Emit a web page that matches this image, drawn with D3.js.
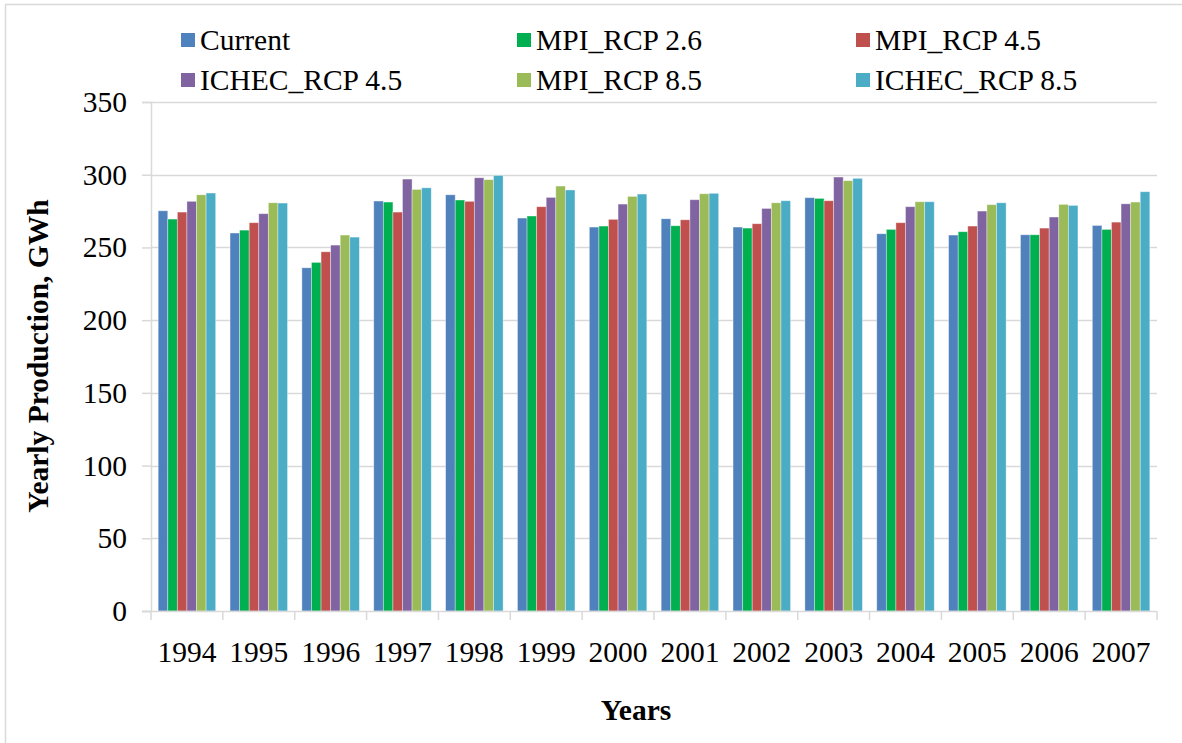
<!DOCTYPE html>
<html>
<head>
<meta charset="utf-8">
<script src="https://cdn.jsdelivr.net/npm/d3@7/dist/d3.min.js"></script>
<style>
  html, body { margin: 0; padding: 0; background: #ffffff; }
  svg { display: block; }
  text { font-family: "Liberation Serif", "Times New Roman", serif; fill: #000; }
</style>
</head>
<body>
<svg id="chart" width="1182" height="743"></svg>
<script>
const years = ["1994","1995","1996","1997","1998","1999","2000","2001","2002","2003","2004","2005","2006","2007"];
const seriesNames = ["Current","MPI_RCP 2.6","MPI_RCP 4.5","ICHEC_RCP 4.5","MPI_RCP 8.5","ICHEC_RCP 8.5"];
const seriesColors = ["#4F81BD","#00B050","#C0504D","#8064A2","#9BBB59","#4BACC6"];
const current    = [275.2, 259.9, 236.0, 281.9, 286.2, 270.2, 264.0, 269.7, 264.0, 284.2, 259.4, 258.5, 258.7, 265.1];
const mpiRcp26   = [269.5, 261.9, 239.7, 281.2, 282.6, 271.6, 264.7, 264.9, 263.3, 283.7, 262.4, 260.8, 258.7, 262.4];
const mpiRcp45   = [274.3, 267.0, 247.0, 274.3, 281.7, 278.0, 269.3, 269.0, 266.3, 282.1, 267.0, 264.7, 263.3, 267.4];
const ichecRcp45 = [281.7, 273.2, 251.6, 297.0, 297.9, 284.4, 279.8, 282.8, 276.8, 298.4, 278.0, 275.0, 270.9, 280.0];
const mpiRcp85   = [286.2, 280.7, 258.5, 289.9, 296.6, 292.2, 285.1, 286.9, 280.7, 295.9, 281.4, 279.4, 279.6, 281.2];
const ichecRcp85 = [287.4, 280.5, 257.1, 291.0, 299.5, 289.5, 286.7, 287.2, 282.1, 297.5, 281.4, 280.7, 278.9, 288.3];
const yTicks = [0, 50, 100, 150, 200, 250, 300, 350];
const yTitle = "Yearly Production, GWh";
const xTitle = "Years";

const seriesValues = [current, mpiRcp26, mpiRcp45, ichecRcp45, mpiRcp85, ichecRcp85];

const svg = d3.select("#chart");
const plot = { left: 151, right: 1157, top: 102, bottom: 611 };
const FS = 29.5;

// chart area border
svg.append("rect")
  .attr("x", 5.5).attr("y", 4.5)
  .attr("width", 1200).attr("height", 800)
  .attr("fill", "#fff").attr("stroke", "#d9d9d9").attr("stroke-width", 1.5);

const x0 = d3.scaleBand().domain(years).range([plot.left, plot.right]).paddingInner(0).paddingOuter(0);
const bw = x0.bandwidth();
const x1 = d3.scaleBand().domain(seriesNames).range([bw * 0.1, bw * 0.9]).padding(0);
const y = d3.scaleLinear().domain([0, 350]).range([plot.bottom, plot.top]);

// gridlines
svg.append("g")
  .selectAll("line")
  .data(yTicks.filter(d => d > 0))
  .join("line")
  .attr("x1", plot.left).attr("x2", plot.right)
  .attr("y1", d => Math.round(y(d)) + 0.5).attr("y2", d => Math.round(y(d)) + 0.5)
  .attr("stroke", "#d9d9d9").attr("stroke-width", 1.5);

// y axis
const yAxis = d3.axisLeft(y).tickValues(yTicks).tickSize(9).tickPadding(15).tickFormat(d3.format("d"));
const gy = svg.append("g").attr("transform", `translate(${plot.left},0)`).call(yAxis);
gy.select(".domain").attr("stroke", "#d9d9d9").attr("stroke-width", 1.5);
gy.selectAll(".tick line").attr("stroke", "#d9d9d9").attr("stroke-width", 1.5);
gy.selectAll(".tick text").attr("font-size", FS).attr("fill", "#000");

// bars
const data = years.map((yr, i) => ({ year: yr, vals: seriesNames.map((s, j) => ({ s, j, v: seriesValues[j][i] })) }));
const groups = svg.append("g").selectAll("g")
  .data(data)
  .join("g")
  .attr("transform", d => `translate(${x0(d.year)},0)`);
groups.selectAll("rect")
  .data(d => d.vals)
  .join("rect")
  .attr("x", d => x1(d.s))
  .attr("width", x1.bandwidth())
  .attr("y", d => y(d.v))
  .attr("height", d => y(0) - y(d.v))
  .attr("fill", d => seriesColors[d.j])
  .attr("stroke", "rgba(255,255,255,0.45)")
  .attr("stroke-width", 0.8);

// x axis
const xAxis = d3.axisBottom(x0).tickSize(0).tickPadding(30);
const gx = svg.append("g").attr("transform", `translate(0,${plot.bottom})`).call(xAxis);
gx.select(".domain").remove();
gx.selectAll(".tick text").attr("font-size", FS).attr("fill", "#000");
svg.append("line")
  .attr("x1", plot.left - 9).attr("x2", plot.right)
  .attr("y1", plot.bottom + 0.5).attr("y2", plot.bottom + 0.5)
  .attr("stroke", "#d9d9d9").attr("stroke-width", 1.5);
svg.append("g").selectAll("line")
  .data(years.map(d => x0(d)).concat([plot.right]))
  .join("line")
  .attr("x1", d => d).attr("x2", d => d)
  .attr("y1", plot.bottom).attr("y2", plot.bottom + 9)
  .attr("stroke", "#d9d9d9").attr("stroke-width", 1.5);

// axis titles
svg.append("text")
  .attr("transform", `translate(48,356) rotate(-90)`)
  .attr("text-anchor", "middle")
  .attr("font-size", FS).attr("font-weight", "bold")
  .text(yTitle);
svg.append("text")
  .attr("x", 636).attr("y", 720)
  .attr("text-anchor", "middle")
  .attr("font-size", FS).attr("font-weight", "bold")
  .text(xTitle);

// legend
const legendCols = [181, 517, 856];
const legendRows = [50, 90];
const lg = svg.append("g").selectAll("g")
  .data(seriesNames)
  .join("g")
  .attr("transform", (d, i) => `translate(${legendCols[i % 3]},${legendRows[Math.floor(i / 3)]})`);
lg.append("rect")
  .attr("x", 0).attr("y", -17).attr("width", 14).attr("height", 14)
  .attr("fill", (d, i) => seriesColors[i]);
lg.append("text")
  .attr("x", 19).attr("y", 0)
  .attr("font-size", FS)
  .text(d => d);
</script>
</body>
</html>
